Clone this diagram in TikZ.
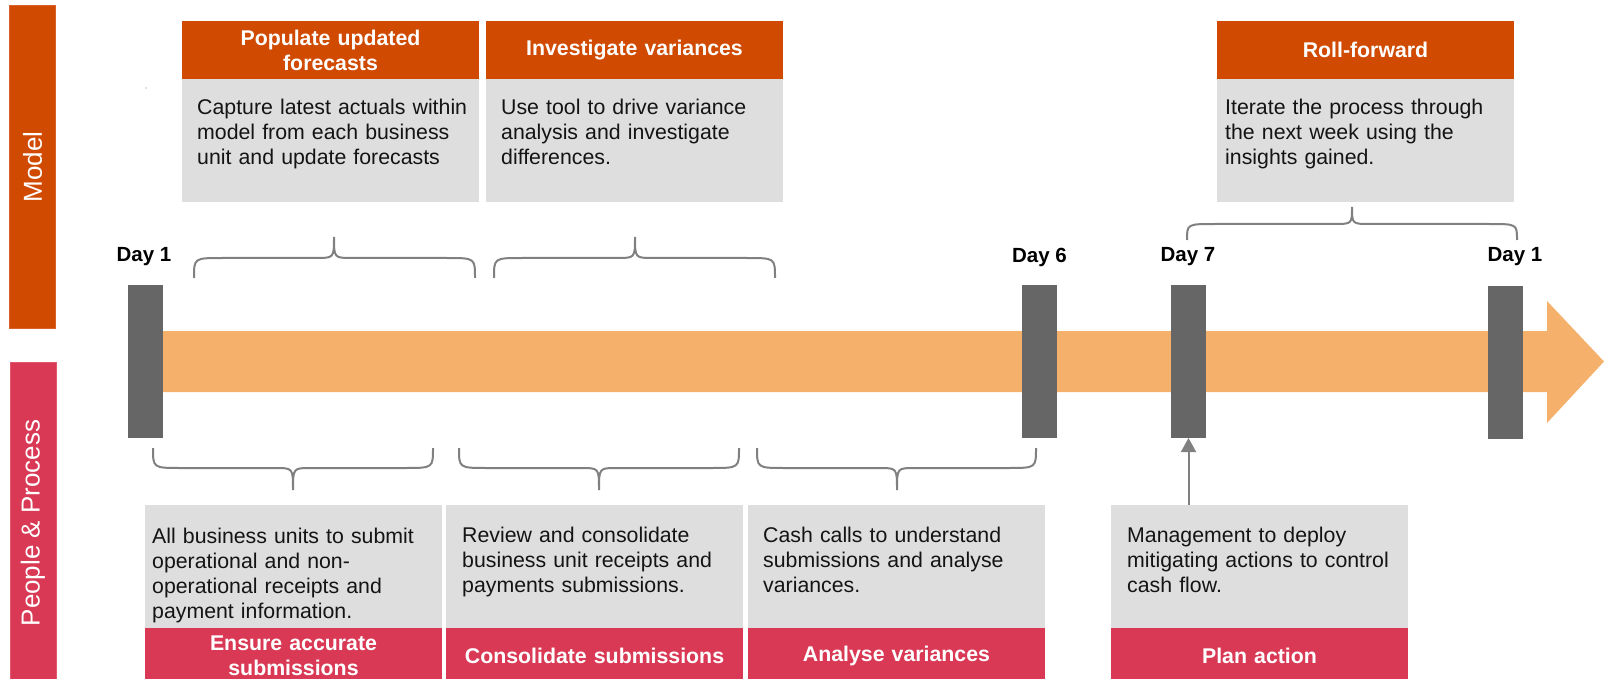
\documentclass[tikz,border=0pt]{standalone}
\usepackage{fontspec}
\setmainfont{Liberation Sans}
\usetikzlibrary{arrows.meta}
\definecolor{pwcorange}{HTML}{D04A02}
\definecolor{pwcrose}{HTML}{D93954}
\definecolor{roseedge}{HTML}{E2586F}
\definecolor{orangeedge}{HTML}{D9622A}
\definecolor{boxgray}{HTML}{DEDEDE}
\definecolor{bargray}{HTML}{666666}
\definecolor{bracegray}{HTML}{808080}
\definecolor{arroworange}{HTML}{F5B06B}
\definecolor{txt}{HTML}{141414}
\newcommand{\curlybrace}[6]{% x1, x2, xtip, yend, yh, ytip
  \draw[bracestyle] (#1,#4) .. controls (#1,#5) .. ({#1+28},#5) -- ({#3-18},#5)
    .. controls (#3,#5) .. (#3,#6) .. controls (#3,#5) .. ({#3+18},#5)
    -- ({#2-28},#5) .. controls (#2,#5) .. (#2,#4);}
\begin{document}
\begin{tikzpicture}[x=1pt,y=-1pt,
  blk/.style={rectangle,inner sep=0pt,outer sep=0pt,draw=none},
  header/.style={blk,fill=pwcorange,minimum width=297pt,minimum height=58pt},
  body/.style={blk,fill=boxgray,minimum width=297pt,minimum height=123pt},
  footer/.style={blk,fill=pwcrose,minimum width=297pt,minimum height=55pt},
  daybar/.style={blk,fill=bargray,minimum width=35pt,minimum height=153pt},
  bodytext/.style={inner sep=0pt,anchor=base west,text width=300pt,align=left,text=txt,
    font=\fontsize{21.3}{25}\selectfont},
  headtext/.style={inner sep=0pt,text width=290pt,align=center,text=white,
    font=\fontsize{21.3}{25}\selectfont\bfseries},
  daytext/.style={inner sep=0pt,text=black,font=\fontsize{20.5}{24}\selectfont\bfseries},
  sidetext/.style={inner sep=0pt,rotate=90,text=white,font=\fontsize{26}{30}\selectfont},
  bracestyle/.style={draw=bracegray,line width=2pt},
  uparrow/.style={draw=bracegray,line width=2pt,-{Triangle[length=14pt,width=15pt]}}
]
\useasboundingbox (0,0) rectangle (1604,679);

% side bars
\node[blk,fill=pwcorange,draw=orangeedge,line width=1pt,minimum width=46pt,minimum height=322pt,anchor=north west] (modelbar) at (9.5,6) {};
\node[sidetext] (modellbl) at (modelbar.center) {Model};
\node[blk,fill=pwcrose,draw=roseedge,line width=1pt,minimum width=46pt,minimum height=322pt,anchor=north west] (ppbar) at (10,362) {};
\node[sidetext] (pplbl) at (ppbar.center) {People \& Process};

% tiny dot
\fill[bracegray] (146,88) circle (0.7);

% timeline arrow
\path[fill=arroworange] (150,331) -- (1547,331) -- (1547,301) -- (1604,361.5)
  -- (1547,423) -- (1547,392) -- (150,392) -- cycle;

% day bars
\node[daybar,anchor=north west] (bar1) at (128,285) {};
\node[daybar,anchor=north west] (bar6) at (1022,285) {};
\node[daybar,anchor=north west] (bar7) at (1171,285) {};
\node[daybar,anchor=north west] (bar1b) at (1488,286) {};

% day labels
\node[daytext] (d1) at (144,257) {Day 1};
\node[daytext] (d6) at (1039.5,257) {Day 6};
\node[daytext] (d7) at (1188,257) {Day 7};
\node[daytext] (d1b) at (1515,257) {Day 1};

% top boxes
\node[header,anchor=north west] (h1) at (182,21) {};
\node[body,anchor=north west] (b1) at (182,79) {};
\node[headtext] at (h1.center) {Populate updated\\forecasts};
\node[bodytext] (t1) at (197,115) {Capture latest actuals within\\model from each business\\unit and update forecasts};

\node[header,anchor=north west] (h2) at (486,21) {};
\node[body,anchor=north west] (b2) at (486,79) {};
\node[headtext] at (h2.center) {Investigate variances};
\node[bodytext] (t2) at (501,115) {Use tool to drive variance\\analysis and investigate\\differences.};

\node[header,anchor=north west] (h3) at (1217,21) {};
\node[body,anchor=north west] (b3) at (1217,79) {};
\node[headtext] at (h3.center) {Roll-forward};
\node[bodytext] (t3) at (1225,115) {Iterate the process through\\the next week using the\\insights gained.};

% bottom boxes
\node[body,anchor=north west] (p1) at (145,505) {};
\node[footer,anchor=north west] (f1) at (145,628) {};
\node[bodytext] (s1) at (152,543) {All business units to submit\\operational and non-\\operational receipts and\\payment information.};
\node[headtext] at (f1.center) {Ensure accurate\\submissions};

\node[body,anchor=north west] (p2) at (446,505) {};
\node[footer,anchor=north west] (f2) at (446,628) {};
\node[bodytext] (s2) at (462,542) {Review and consolidate\\business unit receipts and\\payments submissions.};
\node[headtext] at (f2.center) {Consolidate submissions};

\node[body,anchor=north west] (p3) at (748,505) {};
\node[footer,anchor=north west] (f3) at (748,628) {};
\node[bodytext] (s3) at (763,542) {Cash calls to understand\\submissions and analyse\\variances.};
\node[headtext] at (f3.center) {Analyse variances};

\node[body,anchor=north west] (p4) at (1111,505) {};
\node[footer,anchor=north west] (f4) at (1111,628) {};
\node[bodytext] (s4) at (1127,542) {Management to deploy\\mitigating actions to control\\cash flow.};
\node[headtext] at (f4.center) {Plan action};

% braces
\curlybrace{194}{475}{334}{278}{258}{237}
\curlybrace{494}{775}{635}{278}{258}{237}
\curlybrace{1187}{1517}{1352}{240}{224}{207}
\curlybrace{153}{433}{293}{448}{468}{490}
\curlybrace{459}{739}{599}{448}{468}{490}
\curlybrace{757}{1036}{897}{448}{468}{490}

% connector
\draw[uparrow] (bar7.south |- p4.north) -- (bar7.south);
\end{tikzpicture}
\end{document}
